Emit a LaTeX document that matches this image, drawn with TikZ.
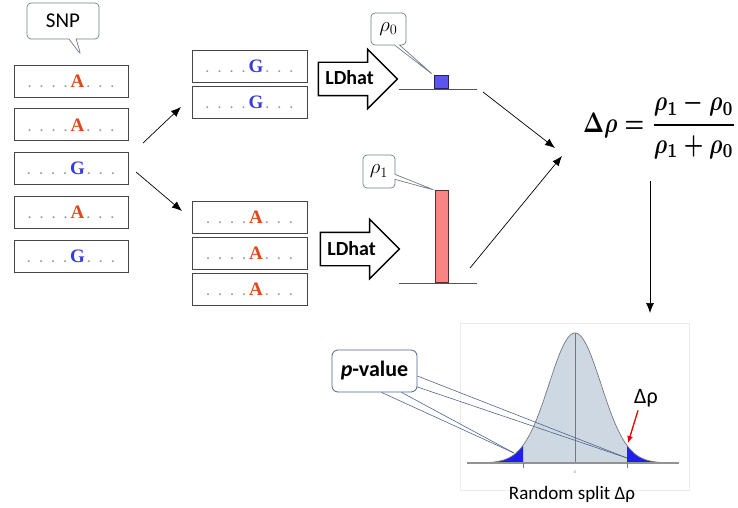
\documentclass[tikz,border=0pt]{standalone}
\usepackage{fontspec}
\usepackage{graphicx}
\setmainfont{Carlito}
\newfontfamily\basefont{Liberation Serif}
\usetikzlibrary{positioning,arrows.meta,shapes.callouts,shapes.arrows}

\definecolor{basered}{RGB}{222,72,32}
\definecolor{baseblue}{RGB}{58,58,222}
\definecolor{dotgray}{RGB}{150,150,150}
\definecolor{boxgray}{RGB}{70,70,70}
\definecolor{callgray}{RGB}{115,125,140}
\definecolor{pvblue}{RGB}{80,100,140}
\definecolor{rhoblue}{RGB}{92,84,240}
\definecolor{rhored}{RGB}{250,132,132}
\definecolor{curvefill}{RGB}{206,216,226}
\definecolor{tailblue}{RGB}{32,32,236}
\definecolor{axisgray}{RGB}{120,120,120}

\newcommand{\seqtxt}[2]{\textcolor{dotgray}{.\hspace{8pt}.\hspace{8pt}.\hspace{8pt}.}\hspace{3pt}\textcolor{#1}{\fontsize{19}{19}\selectfont\basefont\bfseries #2}\hspace{2pt}\textcolor{dotgray}{.\hspace{8pt}.\hspace{8pt}.}}
\newsavebox{\formbox}

\begin{document}
\sbox{\formbox}{\boldmath\resizebox*{153pt}{66pt}{\boldmath$\Delta\rho = \displaystyle\frac{\rho_1-\rho_0}{\rho_1+\rho_0}$}}%
\begin{tikzpicture}[x=1pt,y=-1pt,
	seqbox/.style={rectangle, draw=boxgray, line width=0.9pt, fill=white,
		minimum width=114pt, minimum height=32pt, inner sep=0pt,
		font=\fontsize{16}{16}\selectfont},
	callbox/.style={rectangle callout, draw=callgray, fill=white, line width=0.7pt,
		rounded corners=4pt, inner sep=0pt},
	ldarrow/.style={single arrow, draw=black, line width=1.4pt, fill=white,
		single arrow head extend=13pt, single arrow tip angle=90,
		minimum height=79pt, text height=14pt, text depth=2pt,
		inner ysep=8pt, inner xsep=4pt, font=\fontsize{20}{20}\selectfont\bfseries},
	bar/.style={rectangle, inner sep=0pt, line width=0.8pt, anchor=south},
	pil/.style={-{Latex[length=10pt,width=8pt]}, line width=0.7pt},
	pvline/.style={draw=pvblue, line width=0.6pt},
	declare function={bell(\u)=463-130*exp(-((\u-575)^2)/1352);}
	]
	\useasboundingbox (0,0) rectangle (738,508);

	% input haplotypes
	\node (c1) [seqbox] at (71,81) {\seqtxt{basered}{A}};
	\node (c2) [seqbox, below=11pt of c1] {\seqtxt{basered}{A}};
	\node (c3) [seqbox, below=11pt of c2] {\seqtxt{baseblue}{G}};
	\node (c4) [seqbox, below=11pt of c3] {\seqtxt{basered}{A}};
	\node (c5) [seqbox, below=11pt of c4] {\seqtxt{baseblue}{G}};
	\node (snp) [callbox, minimum width=72pt, minimum height=36pt,
		callout absolute pointer={(81,55)}, font=\fontsize{21}{21}\selectfont] at (63,21) {SNP};

	% split by allele
	\node (g0a) [seqbox, minimum width=115pt] at (249.5,66.5) {\seqtxt{baseblue}{G}};
	\node (g0b) [seqbox, minimum width=115pt, below=3pt of g0a] {\seqtxt{baseblue}{G}};
	\node (g1a) [seqbox, minimum width=115pt] at (249.5,217.5) {\seqtxt{basered}{A}};
	\node (g1b) [seqbox, minimum width=115pt, below=3pt of g1a] {\seqtxt{basered}{A}};
	\node (g1c) [seqbox, minimum width=115pt, below=3pt of g1b] {\seqtxt{basered}{A}};

	\coordinate (s0) at (143,143);
	\coordinate (e0) at (181,107);
	\coordinate (s1) at (136,172);
	\coordinate (e1) at (182,211);
	\draw[pil] (s0) -- (e0);
	\draw[pil] (s1) -- (e1);

	% LDhat estimates
	\node (ld0) [ldarrow] at (349.5,79) {LDhat};
	\node (ld1) [ldarrow] at (351.5,249) {LDhat};

	\draw[axisgray!70!black, line width=0.8pt] (399,89) -- (477,89);
	\draw[axisgray!70!black, line width=0.8pt] (399,283) -- (477,283);
	\node (b0) [bar, fill=rhoblue, draw=rhoblue!40!black, minimum width=14pt, minimum height=13pt] at (441,89) {};
	\node (b1) [bar, fill=rhored, draw=rhored!35!black, minimum width=13pt, minimum height=92pt] at (441.5,283) {};

	\node (r0) [callbox, minimum width=35pt, minimum height=32pt, callout pointer width=5pt,
		callout absolute pointer={(b0.north west)}, font=\fontsize{20}{20}\selectfont] at (388.5,29) {$\rho_0$};
	\node (r1) [callbox, minimum width=32pt, minimum height=33pt, callout pointer width=5pt,
		callout absolute pointer={(b1.north west)}, font=\fontsize{20}{20}\selectfont] at (379,171.5) {$\rho_1$};

	% statistic
	\node (dr) [inner sep=0pt, anchor=west] at (583,126) {\usebox{\formbox}};
	\coordinate (m0) at (483,92);
	\coordinate (t0) at (555,148);
	\coordinate (m1) at (470,268);
	\coordinate (t1) at (562,156);
	\coordinate (d0) at (650,181);
	\coordinate (d1) at (650,313);
	\draw[pil] (m0) -- (t0);
	\draw[pil] (m1) -- (t1);
	\draw[pil] (d0) -- (d1);

	% random split distribution
	\draw[black!8, line width=0.8pt] (460,323) rectangle (689,490);
	\fill[curvefill] (523,463) -- plot[domain=523:627, samples=80] (\x,{bell(\x)}) -- (627,463) -- cycle;
	\fill[tailblue] (480,463) -- plot[domain=480:523, samples=30] (\x,{bell(\x)}) -- (523,463) -- cycle;
	\fill[tailblue] (627,463) -- plot[domain=627:670, samples=30] (\x,{bell(\x)}) -- (670,463) -- cycle;
	\draw[axisgray, line width=0.7pt] plot[domain=480:670, samples=120] (\x,{bell(\x)});
	\draw[axisgray, line width=1pt] (575,333) -- (575,463);
	\draw[axisgray!80, line width=1.4pt] (467,463) -- (679,463);
	\draw[axisgray, line width=0.5pt] (523,463) -- (523,468);
	\draw[axisgray, line width=0.5pt] (627,463) -- (627,468);
	\node (zero) [font=\fontsize{4}{4}\selectfont, text=axisgray] at (575,472) {0};
	\node (lbl) [font=\fontsize{19}{19}\selectfont] at (572,494) {Random split Δρ};
	\node (dl) [font=\fontsize{22}{22}\selectfont] at (646,398) {Δρ};
	\coordinate (rt) at (628,443);
	\draw[-{Latex[length=7pt,width=6pt]}, red!90!black, line width=1.3pt] ([xshift=-8pt]dl.south) -- (rt);

	\node (pv) [draw=pvblue, rounded corners=6pt, fill=white, line width=0.8pt,
		minimum width=85pt, minimum height=42pt, font=\fontsize{22}{22}\selectfont] at (374.5,371)
		{\textbf{\textit{p}-value}};
	\coordinate (lt) at (514,453);
	\coordinate (rtp) at (627,458);
	\draw[pvline] ([xshift=7pt]pv.south) -- (lt);
	\draw[pvline] ([xshift=27pt]pv.south) -- (lt);
	\draw[pvline] ([yshift=-5pt]pv.east) -- (rtp);
	\draw[pvline] ([yshift=-16pt]pv.east) -- (rtp);
\end{tikzpicture}
\end{document}
